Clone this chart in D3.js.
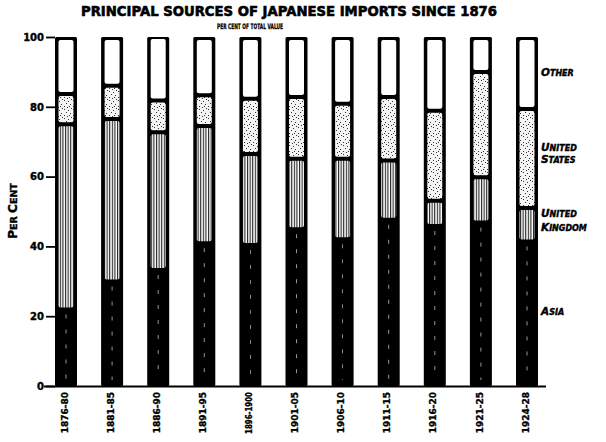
<!DOCTYPE html>
<html>
<head>
<meta charset="utf-8">
<script src="https://cdn.jsdelivr.net/npm/d3@7"></script>
<style>
  html, body { margin: 0; padding: 0; background: #fff; }
  svg { display: block; }
  text { font-family: "DejaVu Sans", sans-serif; font-weight: bold; fill: #000; }
</style>
</head>
<body>
<svg id="chart" width="606" height="442"></svg>
<script>
// ---- data (per cent of total value) ----
const periods = ["1876-80","1881-85","1886-90","1891-95","1896-1900","1901-05","1906-10","1911-15","1916-20","1921-25","1924-28"];
const asia          = [22.5, 30.5, 33.8, 41.5, 41.0, 45.5, 42.6, 48.2, 46.4, 47.4, 42.0];
const unitedKingdom = [52.5, 46.0, 38.9, 33.0, 25.5, 19.6, 22.5, 16.4,  6.7, 12.4,  9.0];
const unitedStates  = [ 8.7,  9.5,  9.1,  8.8, 15.8, 17.7, 15.8, 18.2, 25.8, 30.2, 28.4];
const other         = periods.map((p, i) => +(100 - asia[i] - unitedKingdom[i] - unitedStates[i]).toFixed(1));
const yTicks = [0, 20, 40, 60, 80, 100];
const seriesKeys = ["Asia", "United Kingdom", "United States", "Other"];

const table = periods.map((p, i) => ({
  period: p,
  "Asia": asia[i],
  "United Kingdom": unitedKingdom[i],
  "United States": unitedStates[i],
  "Other": other[i]
}));

const svg = d3.select("#chart");
const defs = svg.append("defs");

// vertical-line hatch for United Kingdom
const pUK = defs.append("pattern").attr("id", "pUK").attr("patternUnits", "userSpaceOnUse")
  .attr("width", 2.6).attr("height", 10);
pUK.append("rect").attr("width", 2.6).attr("height", 10).attr("fill", "#fff");
pUK.append("rect").attr("x", 0).attr("width", 1.1).attr("height", 10).attr("fill", "#222");

// stipple for United States
const pUS = defs.append("pattern").attr("id", "pUS").attr("patternUnits", "userSpaceOnUse")
  .attr("width", 9).attr("height", 9);
pUS.append("rect").attr("width", 9).attr("height", 9).attr("fill", "#f4f4f4");
[[1,1],[5,2],[3,4],[7,5],[1,7],[4,8],[8,0],[6,7]].forEach(([x, y]) =>
  pUS.append("rect").attr("x", x).attr("y", y).attr("width", 1).attr("height", 1).attr("fill", "#333"));

const y = d3.scaleLinear().domain([0, 100]).range([386, 37]);
const x = d3.scalePoint().domain(periods).range([66, 527]);
const barW = 22;

const stack = d3.stack().keys(seriesKeys);
const layers = stack(table);

// bars: black body
const bars = svg.append("g");
bars.selectAll("rect.body").data(periods).join("rect")
  .attr("class", "body")
  .attr("x", d => x(d) - barW / 2)
  .attr("y", y(100))
  .attr("width", barW)
  .attr("height", y(0) - y(100))
  .attr("rx", 1.5)
  .attr("fill", "#000");

// Asia: faint broken white line inside the black
bars.selectAll("line.asia").data(layers[0]).join("line")
  .attr("class", "asia")
  .attr("x1", d => x(d.data.period))
  .attr("x2", d => x(d.data.period))
  .attr("y1", d => y(d[1]) - 8)
  .attr("y2", d => y(d[0]) - 6)
  .attr("stroke", "#fff")
  .attr("stroke-width", 0.8)
  .attr("stroke-dasharray", "4,11")
  .attr("opacity", 0.75);

const fills = { "United Kingdom": "url(#pUK)", "United States": "url(#pUS)", "Other": "#fff" };
layers.slice(1).forEach(layer => {
  const key = layer.key;
  bars.append("g").selectAll("rect").data(layer).join("rect")
    .attr("x", d => x(d.data.period) - barW / 2 + 3.5)
    .attr("width", barW - 7)
    .attr("y", d => y(d[1]) + (d[1] >= 100 ? 3 : 2))
    .attr("height", d => Math.max(0, y(d[0]) - y(d[1]) - (d[1] >= 100 ? 3 : 2) - (key === "United Kingdom" ? 0 : 2)))
    .attr("rx", 2)
    .attr("fill", fills[key]);
});

// baseline
svg.append("line").attr("x1", 44).attr("x2", 546).attr("y1", y(0) + 0.5).attr("y2", y(0) + 0.5)
  .attr("stroke", "#000").attr("stroke-width", 2);

// y axis ticks and labels (no axis spine)
const yAxis = d3.axisLeft(y).tickValues(yTicks).tickSize(9).tickPadding(2);
const gy = svg.append("g").attr("transform", "translate(55,0)").call(yAxis);
gy.select(".domain").remove();
gy.selectAll(".tick line").attr("stroke", "#000").attr("stroke-width", 1.8);
gy.selectAll(".tick text").attr("font-size", 10).attr("font-family", "DejaVu Sans").attr("font-weight", "bold")
  .attr("fill", "#000").attr("stroke", "#000").attr("stroke-width", 0.4);

// x labels rotated
const xAxis = d3.axisBottom(x).tickSize(0).tickPadding(0);
const gx = svg.append("g").attr("transform", `translate(0,${y(0) + 6})`).call(xAxis);
gx.select(".domain").remove();
gx.selectAll(".tick text")
  .attr("transform", "rotate(-90)")
  .attr("text-anchor", "end")
  .attr("dy", "0.35em")
  .attr("x", 0).attr("y", -2)
  .attr("font-size", 9).attr("font-family", "DejaVu Sans").attr("font-weight", "bold")
  .attr("fill", "#000").attr("stroke", "#000").attr("stroke-width", 0.35)
  .each(function() {
    const len = this.getComputedTextLength();
    if (len > 42) d3.select(this).attr("textLength", 42).attr("lengthAdjust", "spacingAndGlyphs");
  });

// title
svg.append("text").attr("x", 289).attr("y", 16).attr("text-anchor", "middle")
  .attr("font-size", 13.5).attr("textLength", 416).attr("lengthAdjust", "spacingAndGlyphs")
  .attr("stroke", "#000").attr("stroke-width", 0.6)
  .text("PRINCIPAL SOURCES OF JAPANESE IMPORTS SINCE 1876");
svg.append("text").attr("x", 250).attr("y", 29).attr("text-anchor", "middle")
  .attr("font-size", 7.5).attr("textLength", 66).attr("lengthAdjust", "spacingAndGlyphs")
  .attr("stroke", "#000").attr("stroke-width", 0.3)
  .text("PER CENT OF TOTAL VALUE");

// y-axis title with small caps look
const yt = svg.append("text").attr("transform", "translate(17,211) rotate(-90)").attr("text-anchor", "middle")
  .attr("stroke", "#000").attr("stroke-width", 0.4);
yt.append("tspan").attr("font-size", 12).text("P");
yt.append("tspan").attr("font-size", 9.5).text("ER ");
yt.append("tspan").attr("font-size", 12).text("C");
yt.append("tspan").attr("font-size", 9.5).text("ENT");

// legend labels at right
const legendLabels = [
  { lines: ["Other"], y: [76] },
  { lines: ["United", "States"], y: [151, 163] },
  { lines: ["United", "Kingdom"], y: [217, 231] },
  { lines: ["Asia"], y: [315] }
];
const lg = svg.append("g").attr("font-style", "italic");
legendLabels.forEach(l => {
  l.lines.forEach((ln, j) => {
    const t = lg.append("text").attr("x", 541).attr("y", l.y[j])
      .attr("stroke", "#000").attr("stroke-width", 0.4).attr("font-style", "italic");
    t.append("tspan").attr("font-size", 10.5).text(ln[0].toUpperCase());
    t.append("tspan").attr("font-size", 8).text(ln.slice(1).toUpperCase());
  });
});
</script>
</body>
</html>
